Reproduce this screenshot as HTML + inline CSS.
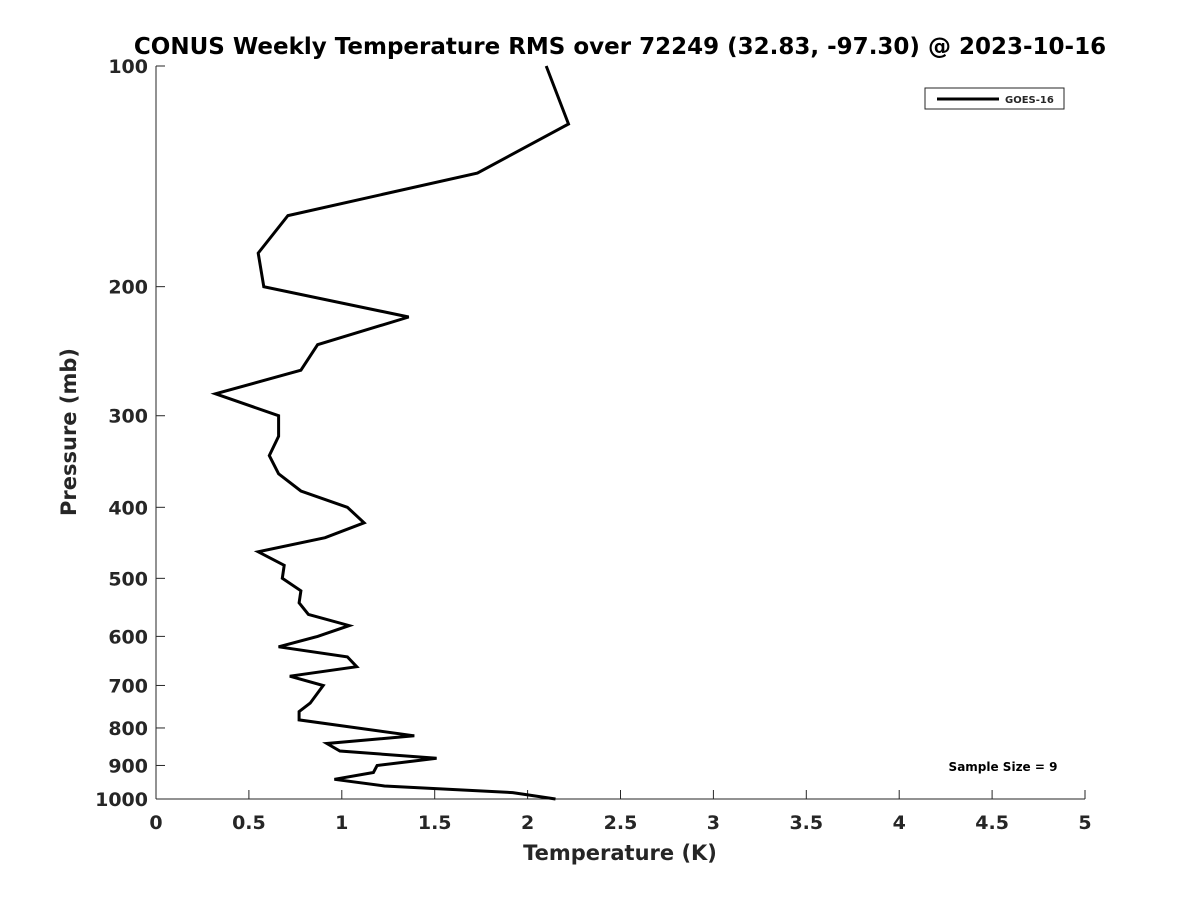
<!DOCTYPE html>
<html><head><meta charset="utf-8"><style>
body{margin:0;background:#fff;}
svg text{font-family:"DejaVu Sans","Liberation Sans",sans-serif;font-weight:bold;fill:#262626;}
</style></head><body>
<svg id="chart" width="1200" height="900" xmlns="http://www.w3.org/2000/svg">
<rect width="1200" height="900" fill="#fff"/>
<text x="620" y="54" text-anchor="middle" font-size="23" style="fill:#000">CONUS Weekly Temperature RMS over 72249 (32.83, -97.30) @ 2023-10-16</text>
<g id="axes"></g>
<text x="620" y="860" text-anchor="middle" font-size="21">Temperature (K)</text>
<text transform="translate(76,432) rotate(-90)" text-anchor="middle" font-size="21">Pressure (mb)</text>
<g>
<rect x="925" y="88" width="139" height="21" fill="#fff" stroke="#262626" stroke-width="1"/>
<line x1="937" y1="99" x2="999" y2="99" stroke="#000" stroke-width="3"/>
<text x="1005" y="103" font-size="10">GOES-16</text>
</g>
<text x="1003" y="771" text-anchor="middle" font-size="12" style="fill:#000">Sample Size = 9</text>
</svg>
<script>
const xTicks=[0,0.5,1,1.5,2,2.5,3,3.5,4,4.5,5];
const xTickLabels=["0","0.5","1","1.5","2","2.5","3","3.5","4","4.5","5"];
const yTicks=[100,200,300,400,500,600,700,800,900,1000];
const yTickLabels=["100","200","300","400","500","600","700","800","900","1000"];
const temps=[2.10,2.22,1.73,0.71,0.55,0.58,1.36,0.87,0.78,0.32,0.66,0.66,0.61,0.66,0.78,1.03,1.12,0.91,0.55,0.69,0.68,0.78,0.77,0.82,1.04,0.87,0.66,1.03,1.08,0.72,0.90,0.83,0.77,0.77,1.39,0.92,0.99,1.51,1.19,1.17,0.96,1.23,1.92,2.15];
const pressures=[100,120,140,160,180,200,220,240,260,280,300,320,340,360,380,400,420,440,460,480,500,520,540,560,580,600,620,640,660,680,700,740,760,780,820,840,860,880,900,920,940,960,980,1000];
const L=156,R=1085,T=66,B=799;
function xs(v){return L+(v-0)/(5-0)*(R-L);}
function ys(p){return T+(Math.log10(p)-2)/(3-2)*(B-T);}
const NS="http://www.w3.org/2000/svg";
const g=document.getElementById('axes');
function mk(tag,attrs){const e=document.createElementNS(NS,tag);for(const k in attrs)e.setAttribute(k,attrs[k]);g.appendChild(e);return e;}
let ax=mk('line',{x1:L,y1:B,x2:R,y2:B,stroke:'#262626','stroke-width':1});


let ay=mk('line',{x1:L,y1:T,x2:L,y2:B,stroke:'#262626','stroke-width':1});


xTicks.forEach((v,i)=>{const x=xs(v);
 const t=mk('line',{x1:x,y1:B,x2:x,y2:B-9,stroke:'#262626'});
 
 
 const tx=mk('text',{x:x,y:B+30,'text-anchor':'middle','font-size':19});tx.textContent=xTickLabels[i];
 
 
});
yTicks.forEach((p,i)=>{const y=ys(p);
 const t=mk('line',{x1:L,y1:y,x2:L+9,y2:y,stroke:'#262626'});
 
 
 const tx=mk('text',{x:L-8,y:y+7,'text-anchor':'end','font-size':19});tx.textContent=yTickLabels[i];
 
 
});
const pts=temps.map((t,i)=>xs(t).toFixed(1)+','+ys(pressures[i]).toFixed(1)).join(' ');
const line=mk('polyline',{points:pts,fill:'none',stroke:'#000','stroke-width':3,'stroke-linejoin':'miter'});


</script>
</body></html>
